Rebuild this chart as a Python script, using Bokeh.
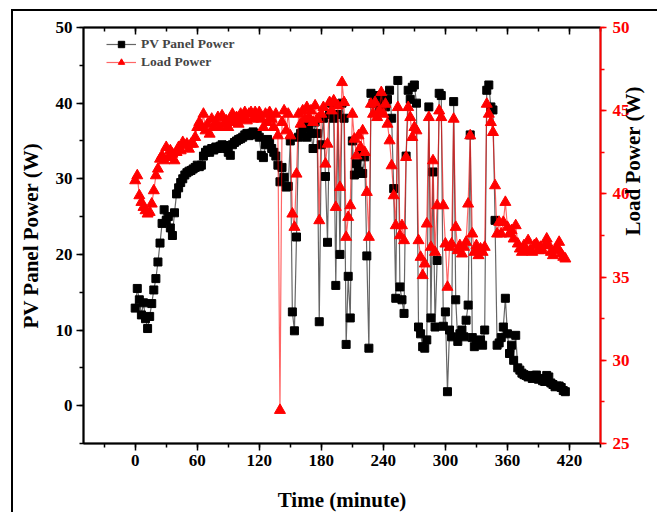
import math
from bokeh.plotting import figure
from bokeh.models import (Range1d, LinearAxis, SingleIntervalTicker, Legend, LegendItem,
                          CustomJSTickFormatter, ColumnDataSource)
from bokeh.embed import file_html
from bokeh.resources import INLINE

# ---------------- data ----------------
time_min = list(range(0, 418, 2))

pv_power = [
    12.9, 15.5, 14.0, 12.0, 13.6, 11.5, 10.2, 11.8, 13.5, 15.3,
    16.8, 19.0, 21.5, 24.1, 25.9, 24.5, 25.0, 23.5, 22.5, 25.5,
    28.0, 28.8, 29.5, 30.0, 30.5, 30.8, 31.0, 31.1, 31.3, 31.5,
    31.8, 31.6, 31.8, 33.0, 33.5, 33.8, 33.5, 34.0, 33.8, 34.2,
    34.0, 34.3, 34.5, 34.4, 34.0, 33.5, 33.1, 34.5, 34.8, 35.0,
    35.2, 35.3, 35.5, 35.8, 36.0, 35.7, 36.0, 36.2, 35.8, 36.0,
    35.5, 33.1, 32.8, 34.5, 35.2, 34.8, 34.0, 33.5, 33.0, 31.8,
    29.6, 31.5, 30.2, 28.9, 29.0, 35.0, 12.4, 9.9, 22.3, 35.5,
    36.0, 36.5, 37.0, 35.5, 36.8, 36.0, 34.0, 37.5, 36.0, 11.1,
    34.5, 38.0, 30.3, 21.6, 38.5, 40.0, 38.0, 15.9, 38.5, 20.0,
    40.0, 38.0, 8.1, 17.1, 11.6, 35.0, 30.5, 32.0, 31.0, 33.5,
    30.7, 32.9, 19.8, 7.6, 41.3, 40.0, 41.0, 40.5, 39.5, 41.0,
    40.0, 39.5, 40.5, 41.7, 38.0, 28.7, 14.2, 43.0, 15.7, 14.0,
    12.2, 33.0, 41.7, 40.5, 42.1, 42.4, 40.0, 10.4, 9.5, 7.8,
    7.6, 8.7, 39.5, 11.6, 30.9, 10.4, 19.2, 41.3, 41.0, 10.5,
    12.4, 1.85, 10.0, 9.1, 40.2, 14.0, 8.5, 9.5, 10.0, 9.1,
    11.3, 13.3, 35.8, 9.0, 7.8, 8.5, 8.2, 8.7, 8.0, 10.0,
    41.7, 42.4, 39.5, 39.1, 24.5, 8.0, 8.3, 9.0, 10.4, 14.2,
    9.5, 6.9, 8.0, 6.0, 9.3, 5.0, 4.7, 4.3, 4.1, 4.0,
    3.8, 3.9, 3.6, 4.0, 4.05, 3.5, 3.6, 3.3, 3.2, 4.0,
    3.8, 3.0, 2.8, 2.5, 2.6, 2.6, 2.4, 2.0, 1.85,
]

load_power = [
    40.8, 41.1, 39.9, 39.5, 39.2, 39.0, 38.8, 38.9, 39.4, 40.2,
    41.1, 41.5, 42.1, 42.3, 42.0, 42.8, 42.2, 42.6, 42.4, 42.0,
    42.5, 42.8, 42.6, 43.1, 42.9, 43.0, 42.7, 43.0, 43.0, 43.4,
    44.0, 44.3, 44.0, 44.8, 43.8, 44.2, 43.6, 44.5, 44.0, 44.3,
    44.6, 44.0, 44.7, 44.2, 44.4, 44.0, 44.5, 44.8, 44.3, 44.6,
    44.2, 44.8, 44.5, 44.9, 44.4, 44.8, 44.9, 44.5, 44.9, 44.6,
    44.9, 44.5, 44.0, 44.8, 44.3, 44.9, 44.5, 44.0, 44.8, 43.5,
    27.0, 44.3, 45.0, 43.8, 44.8, 43.5, 38.8, 38.0, 41.2, 44.8,
    44.2, 45.0, 44.5, 45.2, 44.6, 45.0, 44.3, 45.3, 44.5, 38.4,
    44.8, 45.2, 41.8, 43.0, 45.5, 45.0, 45.6, 39.2, 45.3, 40.4,
    46.7, 45.5, 37.4, 38.6, 39.3, 44.8, 43.3, 42.3, 43.5, 42.8,
    43.8, 42.5, 40.1, 37.4, 45.4, 44.8, 45.5, 44.6, 45.0, 46.1,
    44.8, 45.4, 44.2, 43.2, 41.7, 39.9, 38.1, 45.2, 37.5, 38.1,
    37.2, 42.2, 45.2, 44.6, 43.4, 44.0, 43.8, 37.2, 36.2, 35.1,
    35.8, 38.2, 44.6, 36.8, 42.0, 36.5, 39.3, 45.0, 44.6, 39.3,
    37.0, 34.4, 36.8, 37.0, 44.5, 38.0, 36.6, 36.9, 36.4, 36.8,
    37.1, 39.4, 43.5, 37.6, 36.5, 36.9, 36.3, 36.7, 36.5, 36.8,
    45.4, 44.8, 44.3, 43.7, 40.5, 37.6, 38.3, 37.6, 38.3, 39.5,
    38.0, 37.6, 37.8, 37.3, 38.1, 37.0, 36.7, 36.5, 36.9, 36.6,
    37.2, 36.6, 36.5, 36.9, 37.0, 36.6, 36.8, 36.6, 36.9, 37.3,
    36.9, 36.5, 36.3, 36.6, 36.8, 37.1, 36.4, 36.2, 36.1,
]

x_ticks_interval = 60
pv_axis_range = (-5, 50)
load_axis_range = (25, 50)
time_range = (-50, 450)

FONT = "Liberation Serif"

src = ColumnDataSource(dict(t=time_min, pv=pv_power, load=load_power))

W, H = 646, 503
BL, BR, BT, BB = 70, 57, 16, 71
FW, FH = W - BL - BR, H - BT - BB

p = figure(width=W, height=H, x_range=Range1d(*time_range), y_range=Range1d(*pv_axis_range),
           output_backend="svg", toolbar_location=None,
           min_border_left=BL, min_border_right=BR, min_border_top=BT, min_border_bottom=BB)
p.extra_y_ranges = {"load": Range1d(*load_axis_range)}
p.xgrid.visible = False
p.ygrid.visible = False
p.outline_line_color = "black"
p.outline_line_width = 1.5
p.background_fill_color = "white"
p.border_fill_color = "white"
p.styles = {"margin-left": "11px", "margin-top": "9px",
            "border-left": "2px solid black", "border-top": "2px solid black"}


def style_axis(ax, color="black", tick_in=0, tick_out=7, minor_in=0, minor_out=4):
    ax.axis_line_color = color
    ax.axis_line_width = 2
    ax.major_tick_line_color = color
    ax.minor_tick_line_color = color
    ax.major_tick_line_width = 1.5
    ax.minor_tick_line_width = 1.5
    ax.major_tick_in = tick_in
    ax.major_tick_out = tick_out
    ax.minor_tick_in = minor_in
    ax.minor_tick_out = minor_out
    ax.major_label_text_color = color
    ax.major_label_text_font = FONT
    ax.major_label_text_font_style = "bold"
    ax.major_label_text_font_size = "17px"
    ax.axis_label_text_font = FONT
    ax.axis_label_text_font_style = "bold"
    ax.axis_label_text_font_size = "21px"
    ax.axis_label_text_color = "black"


# left axis
ly = p.yaxis[0]
ly.ticker = SingleIntervalTicker(interval=10, num_minor_ticks=2)
style_axis(ly)
ly.axis_label = "PV Panel Power (W)"
ly.axis_label_standoff = 10
ly.major_label_standoff = 4

# bottom axis
bx = p.xaxis[0]
bx.ticker = SingleIntervalTicker(interval=x_ticks_interval, num_minor_ticks=2)
style_axis(bx)
bx.axis_label = "Time (minute)"
bx.axis_label_standoff = 19
bx.major_label_standoff = 4

# top mirror axis (ticks only)
tx = LinearAxis(ticker=SingleIntervalTicker(interval=x_ticks_interval, num_minor_ticks=2),
                formatter=CustomJSTickFormatter(code="return ''"))
style_axis(tx, tick_in=7, tick_out=0, minor_in=4, minor_out=0)
p.add_layout(tx, "above")

# right axis (load)
ry = LinearAxis(y_range_name="load", ticker=SingleIntervalTicker(interval=5, num_minor_ticks=2))
style_axis(ry, color="red", tick_out=6, minor_out=4)
ry.major_label_standoff = 6
ry.axis_label = "Load Power (W)"
ry.axis_label_standoff = 0
try:
    ry.axis_label_orientation = math.pi / 2
except Exception:
    pass
p.add_layout(ry, "right")

# series
pv_line = p.line("t", "pv", source=src, line_color="black", line_alpha=0.6, line_width=1.2)
pv_pts = p.scatter("t", "pv", source=src, marker="square", size=8,
                   fill_color="black", line_color="black")
ld_line = p.line("t", "load", source=src, y_range_name="load",
                 line_color="red", line_alpha=0.6, line_width=1.2)
ld_pts = p.scatter("t", "load", source=src, y_range_name="load", marker="triangle", size=11,
                   fill_color="red", line_color="red")

legend = Legend(items=[LegendItem(label="PV Panel Power", renderers=[pv_line, pv_pts]),
                       LegendItem(label="Load Power", renderers=[ld_line, ld_pts])],
                location=(23, FH - 44))
legend.label_text_font = FONT
legend.label_text_font_style = "bold"
legend.label_text_font_size = "13.5px"
legend.glyph_width = 30
legend.glyph_height = 16
legend.label_height = 18
legend.label_standoff = 5
legend.spacing = 0
legend.padding = 4
legend.margin = 0
legend.border_line_color = None
legend.background_fill_alpha = 0
p.add_layout(legend)

open("out.html", "w").write(file_html(p, INLINE))
